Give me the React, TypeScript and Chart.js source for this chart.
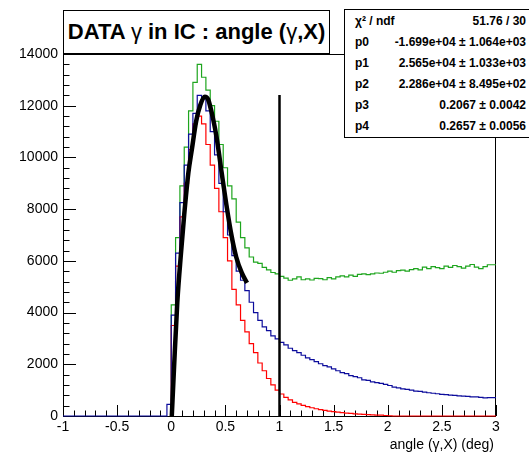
import React, { useEffect, useRef } from "react";
import { Chart, registerables } from "chart.js";
Chart.register(...registerables);

// ---------- data ----------
const BIN_LOW = -1;
const BIN_WIDTH = 0.04;
const EMPTY_BINS = 25; // bins from -1 to 0 are empty

// counts per bin from 0 to 3 (bin width 0.04)
const greenCounts = [
  600, 4300, 6900, 8900, 10400, 11800, 12900, 13600, 13100, 12600,
  12000, 11400, 10500, 9600, 8900, 8400, 7500, 6900, 6500, 6150,
  5950, 5900, 5750, 5650, 5550, 5500, 5400, 5330, 5250, 5300,
  5380, 5270, 5300, 5260, 5320, 5310, 5270, 5350, 5300, 5380,
  5420, 5380, 5450, 5400, 5480, 5500, 5470, 5500, 5530, 5520,
  5560, 5600, 5560, 5620, 5640, 5600, 5660, 5700, 5650, 5760,
  5700, 5780, 5740, 5700, 5800, 5750, 5820, 5780, 5720, 5800,
  5860, 5760, 5700, 5780, 5850,
];
const redCounts = [
  350, 3500, 5800, 7700, 9000, 10300, 11300, 11600, 11300, 10500,
  9700, 8800, 7900, 6900, 6000, 4900, 4300, 3700, 3250, 2800,
  2450, 2050, 1750, 1450, 1200, 1000, 850, 720, 620, 530,
  470, 410, 360, 320, 280, 250, 220, 190, 170, 150,
  130, 110, 100, 80, 70, 60, 50, 40, 30, 30,
  20, 10, 0, 0, 0, 0, 0, 0, 0, 0,
  0, 0, 0, 0, 0, 0, 0, 0, 0, 0,
  0, 0, 0, 0, 0,
];
const blueCounts = [
  450, 3900, 6300, 8250, 9700, 10900, 11700, 12400, 12300, 11800,
  11000, 10100, 9000, 7900, 7000, 6200, 5600, 5250, 4850, 4400,
  4000, 3700, 3450, 3300, 3100, 2980, 2850, 2750, 2620, 2530,
  2450, 2350, 2250, 2180, 2100, 2020, 1950, 1900, 1820, 1750,
  1680, 1640, 1560, 1520, 1480, 1400, 1380, 1320, 1290, 1260,
  1220, 1180, 1120, 1090, 1050, 1030, 1000, 960, 950, 920,
  900, 880, 860, 840, 830, 810, 800, 780, 770, 760,
  740, 740, 720, 700, 710,
];

// fit curve
const fitX = [0.005, 0.025, 0.056, 0.09, 0.12, 0.158, 0.19, 0.23, 0.27, 0.31, 0.34, 0.386, 0.42, 0.466, 0.51, 0.558, 0.6, 0.65, 0.7];
const fitY = [0, 1800, 4400, 6300, 7800, 9400, 10300, 11400, 12050, 12350, 12250, 11500, 10750, 9400, 8150, 6950, 6150, 5550, 5150];

const cutX = 1;
const cutTop = 12410;

const X_MIN = -1;
const X_MAX = 3;
const Y_MAX = 14000;
const xTickLabels = ["-1", "-0.5", "0", "0.5", "1", "1.5", "2", "2.5", "3"];
const yTickLabels = ["0", "2000", "4000", "6000", "8000", "10000", "12000", "14000"];
const xTitle = "angle (\u03b3,X) (deg)";

const statsRows: [string, string][] = [
  ["\u03c7\u00b2 / ndf", "51.76 / 30"],
  ["p0", "-1.699e+04 \u00b1 1.064e+03"],
  ["p1", "2.565e+04 \u00b1 1.033e+03"],
  ["p2", "2.286e+04 \u00b1 8.495e+02"],
  ["p3", "0.2067 \u00b1 0.0042"],
  ["p4", "0.2657 \u00b1 0.0056"],
];

function steps(counts: number[], withEmpty: boolean) {
  const lead = withEmpty ? EMPTY_BINS : 0;
  const all = [...new Array(lead).fill(0), ...counts];
  const start = withEmpty ? BIN_LOW : BIN_LOW + EMPTY_BINS * BIN_WIDTH;
  const pts = all.map((v, i) => ({ x: start + i * BIN_WIDTH, y: v }));
  pts.push({ x: start + all.length * BIN_WIDTH, y: all[all.length - 1] });
  return pts;
}

const FONT = '"Liberation Sans", Arial, Helvetica, sans-serif';

const rootAxes = {
  id: "rootAxes",
  beforeDatasetsDraw(chart: any) {
    const { ctx, chartArea: a, scales } = chart;
    const xs = scales.x;
    const ys = scales.y;
    ctx.save();
    ctx.strokeStyle = "#000";
    ctx.lineWidth = 1;
    ctx.strokeRect(a.left + 0.5, a.top + 0.5, a.right - a.left - 1, a.bottom - a.top);
    for (let k = 0; k <= 40; k++) {
      const v = X_MIN + k * 0.1;
      const px = Math.round(xs.getPixelForValue(v)) + 0.5;
      const len = k % 5 === 0 ? 11 : 5.5;
      ctx.beginPath();
      ctx.moveTo(px, a.bottom);
      ctx.lineTo(px, a.bottom - len);
      ctx.stroke();
    }
    for (let k = 0; k <= 35; k++) {
      const v = k * 400;
      const py = Math.round(ys.getPixelForValue(v)) + 0.5;
      const len = k % 5 === 0 ? 13 : 6.5;
      ctx.beginPath();
      ctx.moveTo(a.left, py);
      ctx.lineTo(a.left + len, py);
      ctx.stroke();
    }
    ctx.fillStyle = "#000";
    ctx.font = `14px ${FONT}`;
    ctx.textBaseline = "middle";
    ctx.textAlign = "center";
    xTickLabels.forEach((t) => {
      ctx.fillText(t, xs.getPixelForValue(parseFloat(t)), a.bottom + 11);
    });
    ctx.textAlign = "right";
    yTickLabels.forEach((t) => {
      ctx.fillText(t, a.left - 5, ys.getPixelForValue(parseFloat(t)));
    });
    ctx.fillText(xTitle, a.right - 2, a.bottom + 29);
    ctx.restore();
  },
};

export default function App() {
  const ref = useRef<HTMLCanvasElement>(null);
  useEffect(() => {
    if (!ref.current) return;
    const common = { fill: false, pointRadius: 0, clip: false as any };
    const chart = new Chart(ref.current, {
      type: "line",
      data: {
        datasets: [
          {
            ...common,
            data: [{ x: cutX, y: 0 }, { x: cutX, y: cutTop }],
            borderColor: "#000",
            borderWidth: 2.5,
          },
          {
            ...common,
            data: fitX.map((x, i) => ({ x, y: fitY[i] })),
            borderColor: "#000",
            borderWidth: 4.5,
            cubicInterpolationMode: "monotone",
          },
          {
            ...common,
            data: steps(blueCounts, true),
            borderColor: "#0c0c9c",
            borderWidth: 1.2,
            stepped: "after",
          },
          {
            ...common,
            data: steps(redCounts, false),
            borderColor: "#ff0000",
            borderWidth: 1.2,
            stepped: "after",
          },
          {
            ...common,
            data: steps(greenCounts, false),
            borderColor: "#1ea51e",
            borderWidth: 1.2,
            stepped: "after",
          },
        ] as any,
      },
      options: {
        animation: false,
        responsive: false,
        layout: { padding: { left: 63, right: 33, top: 54, bottom: 40 } },
        plugins: { legend: { display: false }, tooltip: { enabled: false } },
        scales: {
          x: { type: "linear", min: X_MIN, max: X_MAX, display: false },
          y: { type: "linear", min: 0, max: Y_MAX, display: false },
        },
      },
      plugins: [rootAxes],
    });
    return () => chart.destroy();
  }, []);

  return (
    <div style={{ position: "absolute", left: 0, top: 0, width: 529, height: 456, background: "#fff", overflow: "hidden" }}>
      <canvas ref={ref} width={529} height={456} style={{ position: "absolute", left: 0, top: 0 }} />
      <div
        style={{
          position: "absolute", left: 63, top: 10, width: 267, height: 44, boxSizing: "border-box",
          border: "1px solid #000", background: "#fff", display: "flex", alignItems: "center",
          justifyContent: "center", fontFamily: FONT, fontSize: 22, fontWeight: "bold", whiteSpace: "nowrap", color: "#000",
        }}
      >
        <span>DATA <span style={{ fontWeight: "normal" }}>{"\u03b3"}</span> in IC : angle (<span style={{ fontWeight: "normal" }}>{"\u03b3"}</span>,X)</span>
      </div>
      <div
        style={{
          position: "absolute", left: 344, top: 9, width: 186, height: 129, boxSizing: "border-box",
          border: "1px solid #000", background: "#fff", fontFamily: FONT, fontSize: 12, fontWeight: "bold", color: "#000",
          display: "flex", flexDirection: "column",
        }}
      >
        {statsRows.map(([k, v], i) => (
          <div key={i} style={{ flex: 1, display: "flex", alignItems: "center", justifyContent: "space-between", paddingLeft: 10, paddingRight: 3, whiteSpace: "nowrap" }}>
            <span>{k}</span>
            <span>{v}</span>
          </div>
        ))}
      </div>
    </div>
  );
}
